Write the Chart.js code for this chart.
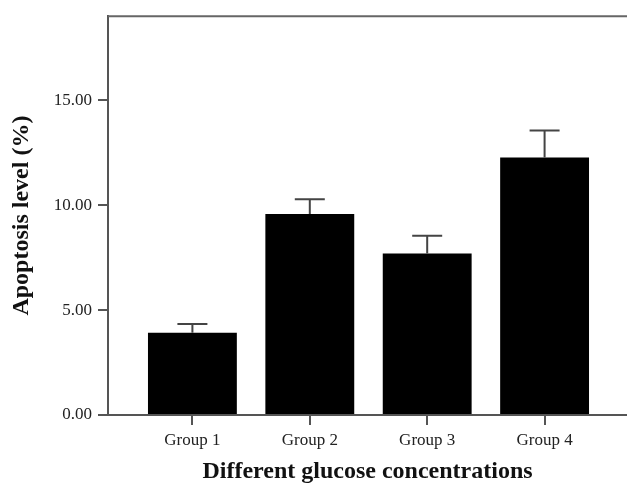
<!DOCTYPE html>
<html>
<head>
<meta charset="utf-8">
<script src="https://cdn.jsdelivr.net/npm/chart.js@4"></script>
<style>body{margin:0;background:#fff}</style>
</head>
<body>
<canvas id="bar-chart" width="627" height="484"></canvas>
<script>
const groups = ['Group 1', 'Group 2', 'Group 3', 'Group 4'];
const groupPos = [1, 2, 3, 4];
const apoptosis = [3.92, 9.58, 7.70, 12.27];
const errorTop = [4.33, 10.28, 8.54, 13.56];
const yTicks = [0, 5, 10, 15];

const ctxBar = document.getElementById('bar-chart');

Chart.defaults.font.family = 'Liberation Serif';
Chart.defaults.color = '#222';

// error bars and the top frame line
const extras = {
  id: 'extras',
  afterDatasetsDraw(chart) {
    const ctx = chart.ctx;
    const y = chart.scales.y;
    const meta = chart.getDatasetMeta(0);
    ctx.save();
    ctx.strokeStyle = '#444';
    ctx.lineWidth = 2;
    meta.data.forEach((bar, i) => {
      const yErr = y.getPixelForValue(errorTop[i]);
      ctx.beginPath();
      ctx.moveTo(bar.x, bar.y);
      ctx.lineTo(bar.x, yErr);
      ctx.moveTo(bar.x - 15, yErr);
      ctx.lineTo(bar.x + 15, yErr);
      ctx.stroke();
    });
    const a = chart.chartArea;
    ctx.strokeStyle = '#666';
    ctx.beginPath();
    ctx.moveTo(a.left, a.top);
    ctx.lineTo(a.right, a.top);
    ctx.stroke();
    ctx.restore();
  }
};

new Chart(ctxBar, {
  type: 'bar',
  data: {
    datasets: [{
      label: 'Apoptosis level',
      data: groupPos.map((x, i) => ({x: x, y: apoptosis[i]})),
      backgroundColor: '#000',
      borderWidth: 0,
      categoryPercentage: 1,
      barPercentage: 0.757
    }]
  },
  options: {
    responsive: false,
    animation: false,
    layout: {padding: {top: 16, right: 0, left: 0, bottom: 0}},
    plugins: {legend: {display: false}, tooltip: {enabled: false}},
    scales: {
      x: {
        type: 'linear',
        offset: false,
        min: 0.281,
        max: 4.702,
        afterBuildTicks: s => { s.ticks = groupPos.map(v => ({value: v})); },
        afterFit: s => { s.height = 69; },
        ticks: {
          callback: v => groups[v - 1],
          font: {size: 17},
          padding: 5,
          maxRotation: 0
        },
        grid: {offset: false, drawOnChartArea: false, tickLength: 10, color: '#555', lineWidth: 2},
        border: {color: '#555', width: 2},
        title: {
          display: true,
          text: 'Different glucose concentrations',
          font: {size: 24, weight: 'bold', lineHeight: 1},
          padding: {top: 0, bottom: 0},
          color: '#111'
        }
      },
      y: {
        min: 0,
        max: 19,
        afterBuildTicks: s => { s.ticks = yTicks.map(v => ({value: v})); },
        afterFit: s => { s.width = 108; },
        ticks: {
          callback: v => v.toFixed(2),
          font: {size: 17},
          padding: 6
        },
        grid: {drawOnChartArea: false, tickLength: 10, color: '#555', lineWidth: 2},
        border: {color: '#555', width: 2},
        title: {
          display: true,
          text: 'Apoptosis level (%)',
          font: {size: 24, weight: 'bold', lineHeight: 1},
          padding: {top: 10, bottom: 0},
          color: '#111'
        }
      }
    }
  },
  plugins: [extras]
});
</script>
</body>
</html>
